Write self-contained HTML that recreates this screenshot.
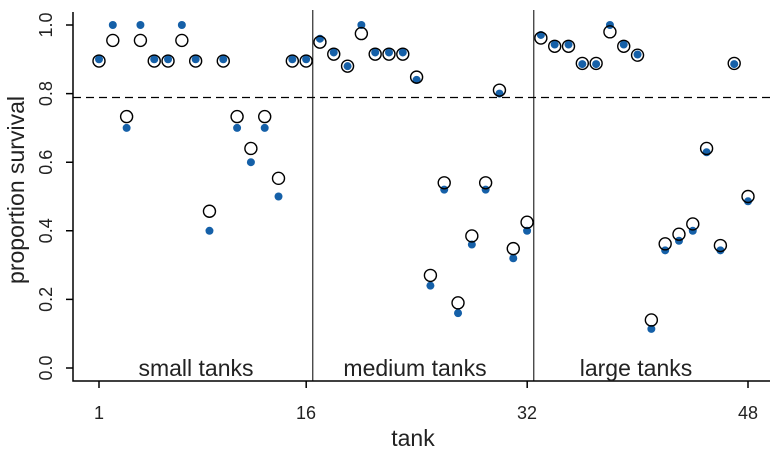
<!DOCTYPE html><html><head><style>body{margin:0;background:#fff}svg{display:block;font-family:"Liberation Sans",Arial,sans-serif}</style></head><body>
<svg width="779" height="452" xmlns="http://www.w3.org/2000/svg">
<g stroke="#000" stroke-width="1.5" fill="none">
<path d="M73,12V381H770"/>
<path d="M73,368h-7M73,299.4h-7M73,230.8h-7M73,162.2h-7M73,93.6h-7M73,25h-7"/>
<path d="M99,381v7M306.2,381v7M527.2,381v7M748,381v7"/>
</g>
<line x1="312.8" y1="10" x2="312.8" y2="381" stroke="#000" stroke-width="1"/>
<line x1="533.8" y1="10" x2="533.8" y2="381" stroke="#000" stroke-width="1"/>
<line x1="73" y1="97.5" x2="770" y2="97.5" stroke="#000" stroke-width="1.3" stroke-dasharray="8,5"/>
<g font-size="18" fill="#222" text-anchor="middle">
<text x="99" y="419">1</text><text x="306" y="419">16</text><text x="527" y="419">32</text><text x="748" y="419">48</text>
<g transform="rotate(-90)">
<text x="-368" y="52">0.0</text><text x="-299.4" y="52">0.2</text><text x="-230.8" y="52">0.4</text><text x="-162.2" y="52">0.6</text><text x="-93.6" y="52">0.8</text><text x="-25" y="52">1.0</text>
</g></g>
<g font-size="23" fill="#222" text-anchor="middle">
<text x="413" y="446">tank</text>
<text transform="rotate(-90)" x="-190" y="24">proportion survival</text>
<text x="196" y="376">small tanks</text><text x="415" y="376">medium tanks</text><text x="636" y="376">large tanks</text>
</g>
<g id="pts"></g>
</svg>
<script>
var p=[.9,1,.7,1,.9,.9,1,.9,.4,.9,.7,.6,.7,.5,.9,.9,.96,.92,.88,1,.92,.92,.92,.84,.24,.52,.16,.36,.52,.8,.32,.4,.971,.943,.943,.886,.886,1,.943,.914,.114,.343,.371,.4,.629,.343,.886,.486];
var e=[.895,.955,.733,.955,.895,.895,.955,.895,.457,.895,.733,.64,.733,.553,.895,.895,.95,.915,.88,.975,.915,.915,.915,.848,.27,.54,.19,.385,.54,.81,.348,.425,.962,.938,.938,.888,.888,.98,.938,.912,.14,.362,.39,.42,.64,.357,.888,.5];
var s='';for(var i=0;i<48;i++){var x=99+i*13.809;
s+='<circle cx="'+x+'" cy="'+(368-p[i]*343)+'" r="4" fill="#1560a8"/>';
s+='<circle cx="'+x+'" cy="'+(368-e[i]*343)+'" r="6" fill="none" stroke="#000" stroke-width="1.4"/>';}
document.getElementById('pts').innerHTML=s;
</script>
</body></html>
